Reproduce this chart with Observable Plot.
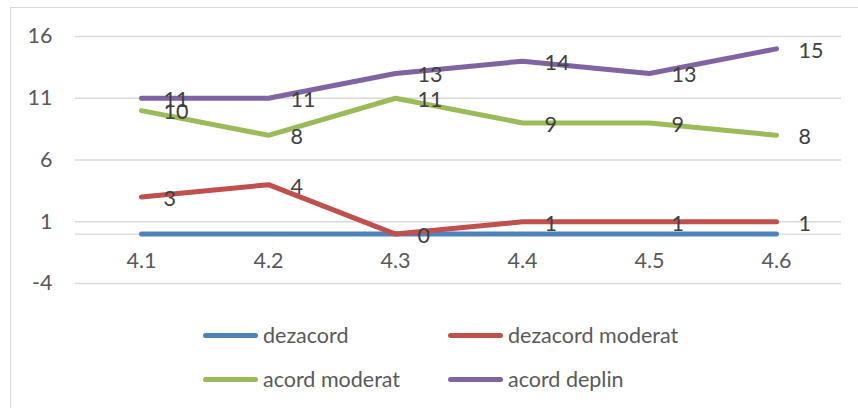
<!DOCTYPE html>
<html>
<head>
<meta charset="utf-8">
<script src="https://cdn.jsdelivr.net/npm/d3@7"></script>
<script src="https://cdn.jsdelivr.net/npm/@observablehq/plot@0.6"></script>
<style>
  html, body { margin: 0; padding: 0; background: #fff; }
  #wrap { position: relative; width: 858px; height: 408px; overflow: hidden; font-family: Lato, "Open Sans", sans-serif; }
  #frame { position: absolute; left: 10px; top: 7px; width: 900px; height: 450px; border: 1px solid #d9d9d9; box-sizing: border-box; }
  #chart { position: absolute; left: 0; top: 0; }
  .leg { position: absolute; display: flex; align-items: center; font-size: 21.5px; color: #595959; white-space: nowrap; }
  .sw { width: 55px; height: 5px; border-radius: 3px; margin-right: 5px; }
</style>
</head>
<body>
<div id="wrap">
  <div id="frame"></div>
  <div id="chart"></div>
  <div id="legend"></div>
</div>
<script>
const categories = ["4.1", "4.2", "4.3", "4.4", "4.5", "4.6"];
const seriesNames = ["dezacord", "dezacord moderat", "acord moderat", "acord deplin"];
const seriesColors = ["#4F81BD", "#C0504D", "#9BBB59", "#8064A2"];
const dezacord = [0, 0, 0, 0, 0, 0];
const dezacordModerat = [3, 4, 0, 1, 1, 1];
const acordModerat = [10, 8, 11, 9, 9, 8];
const acordDeplin = [11, 11, 13, 14, 13, 15];
const labelledSeries = ["dezacord moderat", "acord moderat", "acord deplin"];
const yTicks = [-4, 1, 6, 11, 16];

const valuesBySeries = [dezacord, dezacordModerat, acordModerat, acordDeplin];
const data = [];
seriesNames.forEach((s, i) => {
  categories.forEach((c, j) => data.push({series: s, cat: c, value: valuesBySeries[i][j]}));
});
const labelData = data.filter(d => labelledSeries.includes(d.series));

const plot = Plot.plot({
  width: 858,
  height: 300,
  marginTop: 36,
  marginBottom: 17,
  marginLeft: 75,
  marginRight: 17,
  style: {fontFamily: "Lato, 'Open Sans', sans-serif", background: "transparent"},
  x: {type: "point", domain: categories, padding: 0.5},
  y: {domain: [-4, 16]},
  color: {domain: seriesNames, range: seriesColors},
  marks: [
    Plot.ruleY(yTicks, {stroke: "#d9d9d9", strokeWidth: 1.3}),
    Plot.ruleY([0], {stroke: "#d9d9d9", strokeWidth: 1.3}),
    Plot.axisY({ticks: yTicks, tickFormat: d => String(d), tickSize: 0, tickPadding: 23, fontSize: 21.5, fill: "#595959", label: null}),
    Plot.axisX({tickSize: 0, tickPadding: 0, dy: -31, fontSize: 21.5, fill: "#595959", label: null}),
    Plot.line(data, {x: "cat", y: "value", z: "series", stroke: "series", strokeWidth: 5, strokeLinecap: "round", strokeLinejoin: "round"}),
    Plot.text(labelData, {x: "cat", y: "value", text: d => String(d.value), textAnchor: "start", dx: 22, dy: 2, fontSize: 21.5, fill: "#404040"})
  ]
});
document.getElementById("chart").appendChild(plot);

const legendPos = [[203, 335], [448, 335], [203, 379], [448, 379]];
const legend = document.getElementById("legend");
seriesNames.forEach((s, i) => {
  const el = document.createElement("div");
  el.className = "leg";
  el.style.left = legendPos[i][0] + "px";
  el.style.top = (legendPos[i][1] - 13) + "px";
  el.style.height = "26px";
  el.innerHTML = `<div class="sw" style="background:${seriesColors[i]}"></div><span>${s}</span>`;
  legend.appendChild(el);
});
</script>
</body>
</html>
